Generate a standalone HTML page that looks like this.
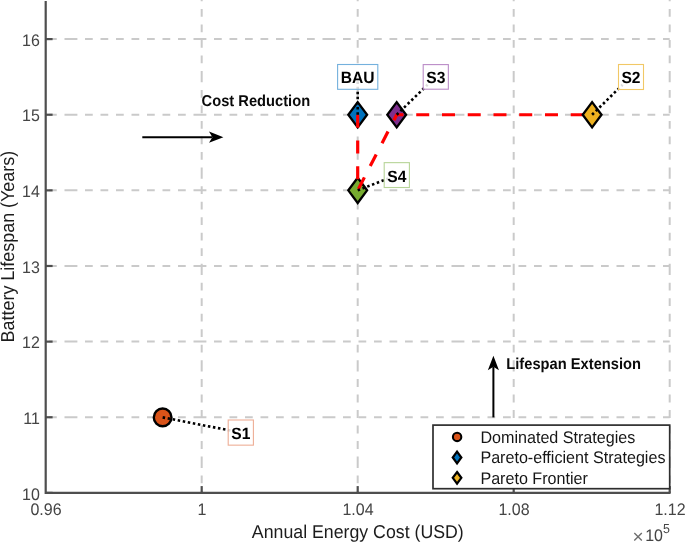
<!DOCTYPE html>
<html lang="en"><head><meta charset="utf-8"><title>Pareto chart</title>
<style>
html,body{margin:0;padding:0;background:#fff;}
body{width:685px;height:542px;overflow:hidden;}
svg{display:block;}
text{font-family:"Liberation Sans",Arial,sans-serif;text-rendering:geometricPrecision;}
.tk{font-size:16px;fill:#454545;}
.lb{font-size:17.4px;fill:#1c1c1c;}
.an{font-size:14.7px;font-weight:bold;fill:#0a0a0a;}
.bx{font-size:15.6px;font-weight:bold;fill:#000;}
.lg{font-size:16.12px;fill:#161616;}
</style></head><body>
<svg width="685" height="542" viewBox="0 0 685 542">
<rect width="685" height="542" fill="#fff"/>
<g stroke="#cacaca" stroke-width="2" fill="none">
<path d="M201.70 0V492.88" stroke-dasharray="11.3 7.6 7.8 7.7 7.8 7.7 7.8 7.7 7.8 7.7 7.8 7.7" stroke-dashoffset="25.40"/>
<path d="M357.70 0V492.88" stroke-dasharray="11.3 7.6 7.8 7.7 7.8 7.7 7.8 7.7 7.8 7.7 7.8 7.7" stroke-dashoffset="25.40"/>
<path d="M513.70 0V492.88" stroke-dasharray="11.3 7.6 7.8 7.7 7.8 7.7 7.8 7.7 7.8 7.7 7.8 7.7" stroke-dashoffset="25.40"/>
<path d="M669.70 0V492.88" stroke-dasharray="11.3 7.6 7.8 7.7 7.8 7.7 7.8 7.7 7.8 7.7 7.8 7.7" stroke-dashoffset="25.40"/>
<path d="M45.70 417.25H669.70" stroke-dasharray="12.9 7.6 7.75 7.75 7.75 7.75 7.75 7.75 7.75 7.75 7.75 7.75 7.75 7.75 7.75 7.75" stroke-dashoffset="110.20"/>
<path d="M45.70 341.62H669.70" stroke-dasharray="12.9 7.6 7.75 7.75 7.75 7.75 7.75 7.75 7.75 7.75 7.75 7.75 7.75 7.75 7.75 7.75" stroke-dashoffset="110.20"/>
<path d="M45.70 265.99H669.70" stroke-dasharray="12.9 7.6 7.75 7.75 7.75 7.75 7.75 7.75 7.75 7.75 7.75 7.75 7.75 7.75 7.75 7.75" stroke-dashoffset="110.20"/>
<path d="M45.70 190.36H669.70" stroke-dasharray="12.9 7.6 7.75 7.75 7.75 7.75 7.75 7.75 7.75 7.75 7.75 7.75 7.75 7.75 7.75 7.75" stroke-dashoffset="110.20"/>
<path d="M45.70 114.73H669.70" stroke-dasharray="12.9 7.6 7.75 7.75 7.75 7.75 7.75 7.75 7.75 7.75 7.75 7.75 7.75 7.75 7.75 7.75" stroke-dashoffset="110.20"/>
<path d="M45.70 39.10H669.70" stroke-dasharray="12.9 7.6 7.75 7.75 7.75 7.75 7.75 7.75 7.75 7.75 7.75 7.75 7.75 7.75 7.75 7.75" stroke-dashoffset="110.20"/>
</g>
<g stroke="#4e4e4e" stroke-width="2.2" fill="none">
<path d="M45.70 1V492.88H670.60"/>
<path d="M201.70 492.88v-6.8"/>
<path d="M357.70 492.88v-6.8"/>
<path d="M513.70 492.88v-6.8"/>
<path d="M669.70 492.88v-6.8"/>
<path d="M45.70 492.88h6.9"/>
<path d="M45.70 417.25h6.9"/>
<path d="M45.70 341.62h6.9"/>
<path d="M45.70 265.99h6.9"/>
<path d="M45.70 190.36h6.9"/>
<path d="M45.70 114.73h6.9"/>
<path d="M45.70 39.10h6.9"/>
</g>
<text class="tk" transform="translate(39.80 499.78) scale(1 1.045)" text-anchor="end">10</text>
<text class="tk" transform="translate(39.80 423.80) scale(1 1.045)" text-anchor="end">11</text>
<text class="tk" transform="translate(39.80 348.17) scale(1 1.045)" text-anchor="end">12</text>
<text class="tk" transform="translate(39.80 272.54) scale(1 1.045)" text-anchor="end">13</text>
<text class="tk" transform="translate(39.80 196.91) scale(1 1.045)" text-anchor="end">14</text>
<text class="tk" transform="translate(39.80 121.28) scale(1 1.045)" text-anchor="end">15</text>
<text class="tk" transform="translate(39.80 45.65) scale(1 1.045)" text-anchor="end">16</text>
<text class="tk" transform="translate(46.00 515.30) scale(1 1.045)" text-anchor="middle">0.96</text>
<text class="tk" transform="translate(202.00 515.30) scale(1 1.045)" text-anchor="middle">1</text>
<text class="tk" transform="translate(358.00 515.30) scale(1 1.045)" text-anchor="middle">1.04</text>
<text class="tk" transform="translate(514.00 515.30) scale(1 1.045)" text-anchor="middle">1.08</text>
<text class="tk" transform="translate(670.00 515.30) scale(1 1.045)" text-anchor="middle">1.12</text>
<text class="tk" transform="translate(632.60 542.60) scale(1 1)" style="font-size:19px;fill:#6e6e6e">×</text>
<text class="tk" transform="translate(645.20 540.70) scale(1 1.045)">10</text>
<text class="tk" transform="translate(662.90 533.00) scale(1 1.045)" style="font-size:12.4px">5</text>
<text class="lb" transform="translate(357.80 537.60) scale(1 1.045)" text-anchor="middle" style="font-size:17.74px">Annual Energy Cost (USD)</text>
<text class="lb" transform="translate(14.00 246.60) rotate(-90) scale(1 1.045)" text-anchor="middle" style="font-size:17.93px">Battery Lifespan (Years)</text>
<circle cx="162.65" cy="417.40" r="8.85" fill="#D95319" stroke="#000" stroke-width="2.4"/>
<path d="M357.70 102.08L367.11 114.73L357.70 127.38L348.29 114.73Z" fill="#0072BD" stroke="#000" stroke-width="2.3" stroke-linejoin="miter"/>
<path d="M396.70 102.08L406.11 114.73L396.70 127.38L387.29 114.73Z" fill="#7E2F8E" stroke="#000" stroke-width="2.3" stroke-linejoin="miter"/>
<path d="M357.70 177.71L367.11 190.36L357.70 203.01L348.29 190.36Z" fill="#77AC30" stroke="#000" stroke-width="2.3" stroke-linejoin="miter"/>
<path d="M357.70 114.73L357.70 190.36L396.70 114.73L592.10 114.73" fill="none" stroke="#FF0000" stroke-width="3.2" stroke-dasharray="13 12.75" stroke-linejoin="miter"/>
<path d="M592.10 102.08L601.51 114.73L592.10 127.38L582.69 114.73Z" fill="#EDB120" stroke="#000" stroke-width="2.3" stroke-linejoin="miter"/>
<path d="M162.65 417.40L231.60 430.75" fill="none" stroke="#000" stroke-width="2.6" stroke-dasharray="2.5 2.62"/>
<rect x="228.20" y="420.00" width="25.20" height="25.15" fill="#fff" fill-opacity="0.86" stroke="#eeae96" stroke-width="1.1"/><text class="bx" transform="translate(240.80 438.60) scale(1 1.045)" text-anchor="middle">S1</text>
<path d="M357.70 114.73L357.70 80.00" fill="none" stroke="#000" stroke-width="2.6" stroke-dasharray="2.5 2.62"/>
<rect x="337.60" y="64.50" width="40.20" height="24.80" fill="#fff" fill-opacity="0.86" stroke="#74b1dd" stroke-width="1.1"/><text class="bx" transform="translate(357.70 83.30) scale(1 1.045)" text-anchor="middle">BAU</text>
<path d="M396.70 114.73L427.60 84.70" fill="none" stroke="#000" stroke-width="2.6" stroke-dasharray="2.5 2.62"/>
<rect x="423.20" y="64.60" width="25.15" height="24.60" fill="#fff" fill-opacity="0.86" stroke="#ba8cc7" stroke-width="1.1"/><text class="bx" transform="translate(435.77 83.30) scale(1 1.045)" text-anchor="middle">S3</text>
<path d="M357.70 190.36L388.20 178.50" fill="none" stroke="#000" stroke-width="2.6" stroke-dasharray="2.5 2.62"/>
<rect x="384.20" y="162.65" width="25.20" height="24.85" fill="#fff" fill-opacity="0.86" stroke="#b7d498" stroke-width="1.1"/><text class="bx" transform="translate(396.80 181.70) scale(1 1.045)" text-anchor="middle">S4</text>
<path d="M592.10 114.73L622.60 84.70" fill="none" stroke="#000" stroke-width="2.6" stroke-dasharray="2.5 2.62"/>
<rect x="618.50" y="64.50" width="25.00" height="25.00" fill="#fff" fill-opacity="0.86" stroke="#f1c866" stroke-width="1.1"/><text class="bx" transform="translate(631.00 83.30) scale(1 1.045)" text-anchor="middle">S2</text>
<text class="an" transform="translate(201.60 105.80) scale(1 1.07)">Cost Reduction</text>
<path d="M142.3 137.15H212" stroke="#000" stroke-width="2" fill="none"/>
<path d="M223.4 137.15L209 131.6L212.4 137.15L209 142.7Z" fill="#000"/>
<text class="an" transform="translate(506.30 368.70) scale(1 1.07)">Lifespan Extension</text>
<path d="M493.4 417.4V367" stroke="#000" stroke-width="2" fill="none"/>
<path d="M493.4 355.8L487.85 370.2L493.4 366.8L498.95 370.2Z" fill="#000"/>
<rect x="433" y="425.1" width="236.70" height="63.6" fill="#fff" stroke="#2e2e2e" stroke-width="1.7"/>
<circle cx="457.1" cy="436.9" r="4.2" fill="#D95319" stroke="#000" stroke-width="2.1"/>
<path d="M457.05 451.70L461.35 457.50L457.05 463.30L452.75 457.50Z" fill="#0072BD" stroke="#000" stroke-width="2.2" stroke-linejoin="miter"/>
<path d="M457.05 472.00L461.35 477.80L457.05 483.60L452.75 477.80Z" fill="#EDB120" stroke="#000" stroke-width="2.2" stroke-linejoin="miter"/>
<text class="lg" transform="translate(480.40 443.10) scale(1 1.045)">Dominated Strategies</text>
<text class="lg" transform="translate(480.40 463.40) scale(1 1.045)">Pareto-efficient Strategies</text>
<text class="lg" transform="translate(480.40 483.70) scale(1 1.045)">Pareto Frontier</text>
</svg></body></html>
